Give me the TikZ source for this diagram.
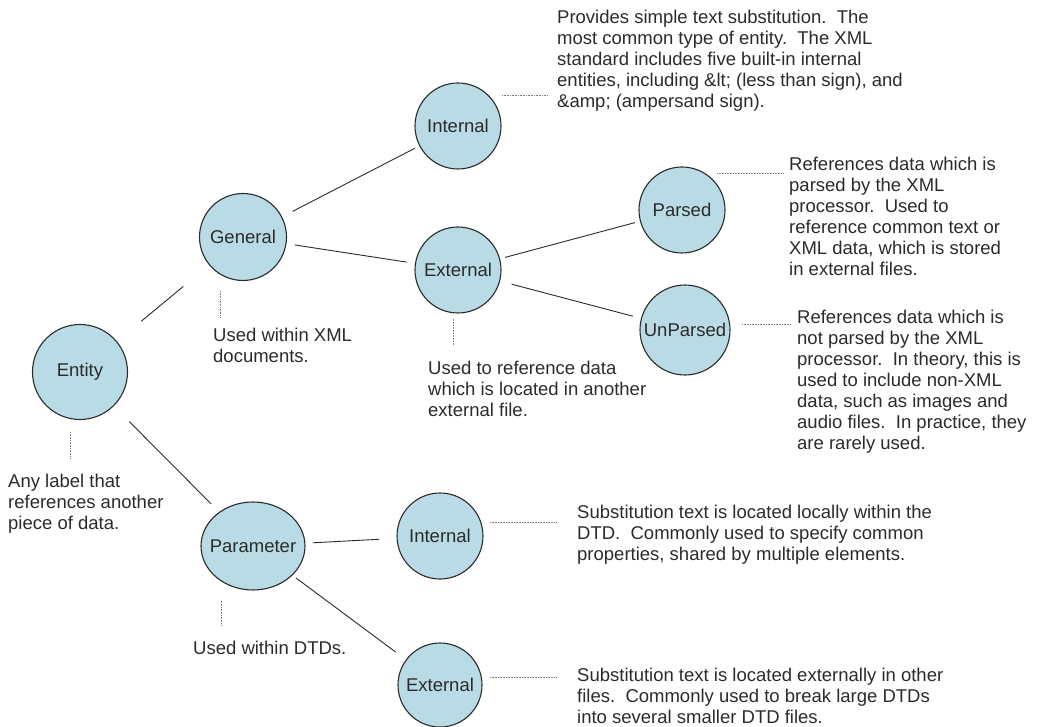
\documentclass[tikz,border=0pt]{standalone}
\usepackage{fontspec}
\setmainfont{Liberation Sans}
\usetikzlibrary{calc,shapes.geometric}
\definecolor{bubblefill}{HTML}{B9DBE5}
\definecolor{inkgrey}{HTML}{2B2B2B}

\begin{document}
\begin{tikzpicture}[x=1pt, y=-1pt]
\tikzset{bubble/.style={circle,draw=inkgrey,fill=bubblefill,line width=1.1pt,inner sep=0,minimum size=86,text=inkgrey,font=\fontsize{18.5}{21}\selectfont},
note/.style={anchor=north west,align=left,inner sep=0,text=inkgrey,font=\fontsize{18.5}{21}\selectfont},
link/.style={draw=inkgrey,line width=0.9pt},
leader/.style={draw=gray,line width=0.7pt,dash pattern=on 0.7pt off 0.9pt}}

\useasboundingbox (0,0) rectangle (1042,727);

%% Bubbles
\node (entity) [bubble,minimum size=95] at (80, 372) {Entity};
\node (general) [bubble,minimum size=87] at (243, 237) {General};
\node (intA) [bubble] at (458, 126) {Internal};
\node (extA) [bubble] at (458, 270) {External};
\node (parsed) [bubble] at (682, 210) {Parsed};
\node (unparsed) [bubble,minimum size=90] at (685, 330) {UnParsed};
\node (parameter) [bubble,ellipse,minimum width=104,minimum height=88,inner xsep=-8pt] at (253, 546) {Parameter};
\node (intB) [bubble] at (440, 536) {Internal};
\node (extB) [bubble,minimum size=84] at (440, 685) {External};

%% Notes
\node (intAnote) [note] at (557, 10) {Provides simple text substitution.\ \ The\\
most common type of entity.\ \ The XML\\
standard includes five built-in internal\\
entities, including \&lt; (less than sign), and\\
\&amp; (ampersand sign).};
\node (parsednote) [note] at (789, 157) {References data which is\\
parsed by the XML\\
processor.\ \ Used to\\
reference common text or\\
XML data, which is stored\\
in external files.};
\node (unparsednote) [note] at (797, 310) {References data which is\\
not parsed by the XML\\
processor.\ \ In theory, this is\\
used to include non-XML\\
data, such as images and\\
audio files.\ \ In practice, they\\
are rarely used.};
\node (intBnote) [note] at (577, 505) {Substitution text is located locally within the\\
DTD.\ \ Commonly used to specify common\\
properties, shared by multiple elements.};
\node (extBnote) [note] at (577, 668) {Substitution text is located externally in other\\
files.\ \ Commonly used to break large DTDs\\
into several smaller DTD files.};
\node (entitynote) [note] at (8, 474) {Any label that\\
references another\\
piece of data.};
\node (generalnote) [note] at (213, 328) {Used within XML\\
documents.};
\node (extAnote) [note] at (428, 361) {Used to reference data\\
which is located in another\\
external file.};
\node (parameternote) [note] at (193, 641) {Used within DTDs.};

%% Edges
\draw [link] ($(entity)!.375!(general)$) -- ($(entity)!.634!(general)$);
\draw [link] ($(general)!.231!(intA)$) -- ($(general)!.80!(intA)$);
\draw [link] ($(general)!.241!(extA)$) -- ($(general)!.761!(extA)$);
\draw [link] ($(extA)!.21!(parsed)$) -- ($(extA)!.79!(parsed)$);
\draw [link] ($(extA)!.236!(unparsed)$) -- ($(extA)!.77!(unparsed)$);
\draw [link] ($(entity)!.285!(parameter)$) -- ($(entity)!.758!(parameter)$);
\draw [link] ($(parameter)!.32!(intB)$) -- ($(parameter)!.675!(intB)$);
\draw [link] ($(parameter)!.23!(extB)$) -- ($(parameter)!.763!(extB)$);

%% Leaders
\coordinate (intAdot) at (502, 95);
\coordinate (parseddot) at (717, 173);
\coordinate (unparseddot) at (742, 324);
\coordinate (intBdot) at (490, 522);
\coordinate (extBdot) at (490, 677);
\draw [leader] (intAdot) -- (intAdot -| intAnote.west) [shorten >=10pt];
\foreach \u in {parsed, unparsed} \draw [leader] (\u dot) -- ($(\u dot -| \u note.west)+(-6,0)$);
\foreach \u in {intB, extB} \draw [leader] (\u dot) -- ($(\u dot -| \u note.west)+(-20,0)$);
\draw [leader] ($(entity.south)+(-10,12)$) -- +(0,26);
\draw [leader] ($(general.south)+(-23,10)$) -- +(0,27);
\draw [leader] ($(extA.south)+(-5,5)$) -- +(0,27);
\draw [leader] ($(parameter.south)+(-32,10)$) -- +(0,25);

\end{tikzpicture}
\end{document}
